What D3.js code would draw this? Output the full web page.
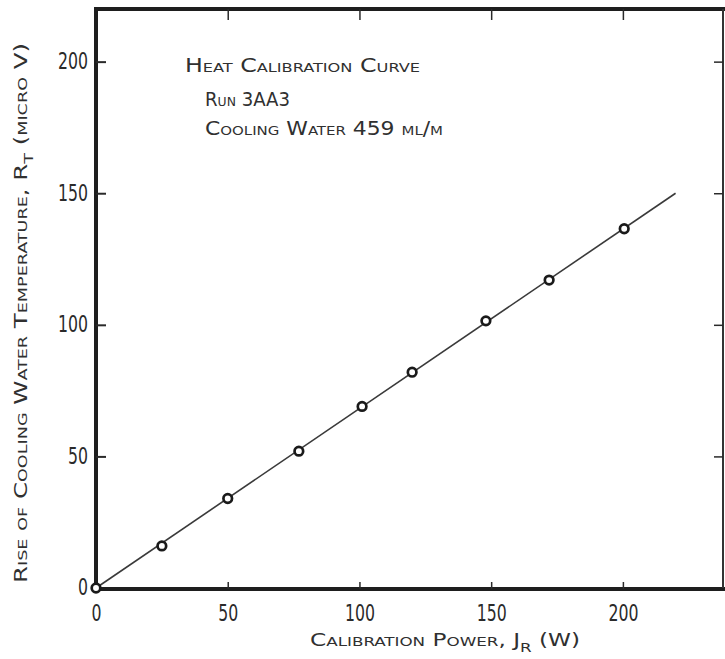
<!DOCTYPE html>
<html>
<head>
<meta charset="utf-8">
<script src="https://cdn.jsdelivr.net/npm/d3@7"></script>
<style>
  body { margin: 0; background: #fff; }
  svg { display: block; }
  .lbl { font-family: "Liberation Sans Narrow", "DejaVu Sans Condensed", sans-serif; fill: #2a2a2a; }
  .sc { font-family: "DejaVu Sans Condensed", "DejaVu Sans", sans-serif; font-variant: small-caps; fill: #303030; }
</style>
</head>
<body>
<div id="chart"></div>
<script>
// data
const powerW = [0, 25, 50, 77, 101, 120, 148, 172, 200.5];
const riseMicroV = [0, 16, 34, 52, 69, 82, 101.5, 117, 136.5];
const fitPower = [0, 220];
const fitRise = [0, 150];
const xTicks = [0, 50, 100, 150, 200];
const yTicks = [0, 50, 100, 150, 200];
const titleLines = ["Heat Calibration Curve", "Run 3AA3", "Cooling Water 459 ml/m"];

const W = 725, H = 659;
const svg = d3.select('#chart').append('svg')
    .attr('width', W)
    .attr('height', H);

const x = d3.scaleLinear().domain([0, 238]).range([96, 723]);
const y = d3.scaleLinear().domain([0, 220]).range([588, 9]);

// frame
svg.append('line').attr('x1', 96).attr('x2', 96).attr('y1', y(220)).attr('y2', y(0) + 1)
    .attr('stroke', '#1e1e1e').attr('stroke-width', 4);
svg.append('line').attr('x1', 96).attr('x2', 725).attr('y1', y(0) + 1).attr('y2', y(0) + 1)
    .attr('stroke', '#1e1e1e').attr('stroke-width', 4);
svg.append('line').attr('x1', 94).attr('x2', 725).attr('y1', y(220)).attr('y2', y(220))
    .attr('stroke', '#1e1e1e').attr('stroke-width', 4);
svg.append('line').attr('x1', 723).attr('x2', 723).attr('y1', y(220)).attr('y2', y(0))
    .attr('stroke', '#333').attr('stroke-width', 2);

// axes
const yAxis = d3.axisLeft(y).tickValues(yTicks).tickSize(-10).tickPadding(8);
const gy = svg.append('g').attr('transform', 'translate(96,0)').call(yAxis);

const xAxis = d3.axisBottom(x).tickValues(xTicks).tickSize(-7).tickPadding(16);
const gx = svg.append('g').attr('transform', 'translate(0,' + (y(0) + 1) + ')').call(xAxis);

const gt = svg.append('g').attr('transform', 'translate(0,' + y(220) + ')')
    .call(d3.axisTop(x).tickValues(xTicks.slice(1)).tickSize(-11).tickFormat(''));
const gr = svg.append('g').attr('transform', 'translate(723,0)')
    .call(d3.axisRight(y).tickValues(yTicks.slice(1)).tickSize(-9).tickFormat(''));

[gy, gx, gt, gr].forEach(g => {
  g.select('.domain').remove();
  g.selectAll('.tick line').attr('stroke', '#2a2a2a').attr('stroke-width', 1.5);
  g.selectAll('.tick text')
    .attr('class', 'lbl')
    .attr('font-size', 23)
    .attr('textLength', d => String(d).length * 10)
    .attr('lengthAdjust', 'spacingAndGlyphs');
});
gy.selectAll('.tick line').attr('stroke-width', 2);
gx.selectAll('.tick').filter(d => d === 0).select('line').remove();
gy.selectAll('.tick').filter(d => d === 0).select('line').remove();
gy.selectAll('.tick text').attr('dy', '0.3em');

// fitted line
svg.append('line')
    .attr('x1', x(fitPower[0])).attr('y1', y(fitRise[0]))
    .attr('x2', x(fitPower[1])).attr('y2', y(fitRise[1]))
    .attr('stroke', '#3a3a3a').attr('stroke-width', 1.6);

// measured points
svg.selectAll('circle.pt')
    .data(powerW.map((p, i) => [p, riseMicroV[i]]))
    .enter()
    .append('circle')
    .attr('class', 'pt')
    .attr('cx', d => x(d[0]))
    .attr('cy', d => y(d[1]))
    .attr('r', 4.3)
    .attr('fill', '#fff')
    .attr('stroke', '#1a1a1a')
    .attr('stroke-width', 2.7);

// title block
const titlePos = [[185, 72, 235], [205, 106, 85], [205, 135, 238]];
titleLines.forEach((t, i) => {
  svg.append('text')
    .attr('class', 'sc')
    .attr('x', titlePos[i][0])
    .attr('y', titlePos[i][1])
    .attr('font-size', 19)
    .attr('textLength', titlePos[i][2])
    .attr('lengthAdjust', 'spacingAndGlyphs')
    .text(t);
});

// x label
const xl = svg.append('text')
    .attr('class', 'sc')
    .attr('x', 310)
    .attr('y', 646)
    .attr('font-size', 18);
xl.append('tspan').text('Calibration Power, J');
xl.append('tspan').attr('font-size', 13).attr('dy', 6).text('R');
xl.append('tspan').attr('dy', -6).text(' (W)');
xl.attr('textLength', 270).attr('lengthAdjust', 'spacingAndGlyphs');

// y label
const yl = svg.append('text')
    .attr('class', 'sc')
    .attr('transform', 'translate(27,583) rotate(-90)')
    .attr('font-size', 18);
yl.append('tspan').text('Rise of Cooling Water Temperature, R');
yl.append('tspan').attr('font-size', 13).attr('dy', 6).text('T');
yl.append('tspan').attr('dy', -6).text(' (micro V)');
yl.attr('textLength', 540).attr('lengthAdjust', 'spacingAndGlyphs');
</script>
</body>
</html>
